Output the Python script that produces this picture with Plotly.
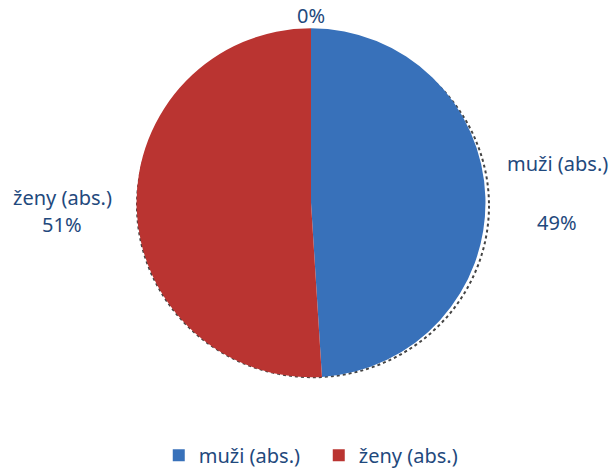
import plotly.graph_objects as go

categories = ["muži (abs.)", "ženy (abs.)"]
values = [49, 51]
pct_labels = ["49%", "51%"]
colors = ["#3871BA", "#BA3431"]

W, H = 613, 475
def px(x, y):
    return x / W, 1 - y / H

cx, cy, r = 311, 208, 179
fig = go.Figure()
fig.add_trace(go.Pie(
    labels=categories, values=values, sort=False, direction="clockwise", rotation=0,
    marker=dict(colors=colors, line=dict(width=0)),
    textinfo="none", hoverinfo="label+percent",
    domain=dict(x=[(cx - r) / W, (cx + r) / W], y=[1 - (cy + r) / H, 1 - (cy - r) / H]),
))
txtc = "#1F497D"
font = dict(family="Noto Sans, Open Sans, sans-serif", size=20, color=txtc)
ann = [
    (557, 168, categories[0]), (557, 228, pct_labels[0]),
    (62, 203, categories[1]), (62, 230, pct_labels[1]),
    (311, 16, "0%"),
]
for x, y, t in ann:
    ax, ay = px(x, y)
    fig.add_annotation(x=ax, y=ay, xref="paper", yref="paper", text=t, showarrow=False,
                       font=font, xanchor="center", yanchor="middle")
pr = 176
x0, y0 = px(cx - pr + 2, cy + pr + 3)
x1, y1 = px(cx + pr + 2, cy - pr + 3)
fig.add_shape(type="circle", xref="paper", yref="paper", x0=x0, y0=y0, x1=x1, y1=y1,
              line=dict(color="#444444", width=2, dash="dot"), layer="below")
fig.update_layout(
    width=W, height=H, margin=dict(l=0, r=0, t=0, b=0),
    paper_bgcolor="white", plot_bgcolor="white",
    showlegend=True,
    legend=dict(orientation="h", x=0.52, xanchor="center", y=0.017, yanchor="middle",
                font=font, itemwidth=30, traceorder="normal",
                entrywidth=115, entrywidthmode="pixels"),
)
fig.write_html("out.html", post_script="document.body.style.margin='0';",
               config={"displayModeBar": False})
